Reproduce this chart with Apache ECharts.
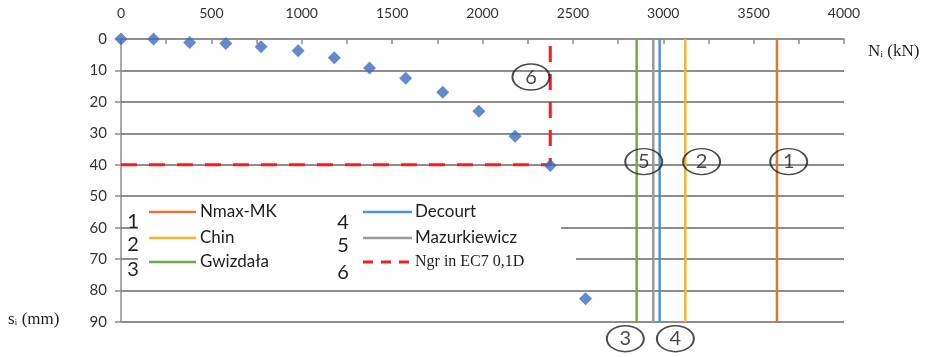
<!DOCTYPE html>
<html>
<head>
<meta charset="utf-8">
<script src="https://cdn.jsdelivr.net/npm/echarts@6/dist/echarts.min.js"></script>
<style>
  html, body { margin: 0; padding: 0; background: #fff; }
  #chart { width: 939px; height: 357px; }
</style>
</head>
<body>
<div id="chart"></div>
<script>
// Static load test: load N (kN) vs settlement s (mm)
const loads = [0, 180, 380, 580, 775, 980, 1180, 1375, 1575, 1780, 1980, 2180, 2375, 2570];
const settlements = [0, 0, 1.1, 1.4, 2.5, 3.7, 6.0, 9.2, 12.5, 16.9, 23.0, 30.9, 40.2, 82.6];

// Limit bearing capacity by method
const methodNames = ['Nmax-MK', 'Chin', 'Gwizdała', 'Decourt', 'Mazurkiewicz'];
const methodNumbers = ['1', '2', '3', '4', '5'];
const methodValues = [3629, 3122, 2853, 2980, 2945];
const methodColors = ['#E4752F', '#F5B52A', '#6FAC46', '#4E93D3', '#9A9A9A'];

// Ngr from EC7 criterion (settlement 0.1D)
const ngrName = 'Ngr in EC7 0,1D';
const ngrValue = 2375;
const ngrSettlement = 40;

// Circled numbers placed next to the lines
const markerLabels = ['6', '5', '2', '1', '3', '4'];
const markerX = [2268, 2892, 3212, 3694, 2790, 3067];
const markerY = [12.1, 39, 39, 39, 95.3, 95.3];

const xTicks = [0, 4000, 500];
const yTicks = [0, 90, 10];

const chart = echarts.init(document.getElementById('chart'));
const axisGray = '#8E8E8E';
const textGray = '#333333';
const sansFont = 'Lato, "Open Sans", sans-serif';
const serifFont = '"Liberation Serif", "DejaVu Serif", serif';

const series = [];
methodValues.forEach((v, i) => {
  series.push({
    name: methodNames[i],
    type: 'line',
    data: [[v, yTicks[0]], [v, yTicks[1]]],
    symbol: 'none',
    lineStyle: { color: methodColors[i], width: 2.5 },
    z: 3,
    silent: true
  });
});
series.push({
  name: ngrName,
  type: 'line',
  data: [[xTicks[0], ngrSettlement], [ngrValue, ngrSettlement], [ngrValue, yTicks[0]]],
  symbol: 'none',
  lineStyle: { color: '#F02020', width: 3, type: [16, 12] },
  z: 4,
  silent: true
});
series.push({
  name: 'test',
  type: 'scatter',
  data: loads.map((x, i) => [x, settlements[i]]),
  symbol: 'diamond',
  symbolSize: 13,
  itemStyle: { color: '#3C6DBF' },
  z: 5
});
series.push({
  name: 'markers',
  type: 'scatter',
  clip: false,
  data: markerLabels.map((t, i) => ({ value: [markerX[i], markerY[i]], name: t })),
  symbol: 'circle',
  symbolSize: [37, 26],
  itemStyle: { color: 'rgba(0,0,0,0)', borderColor: '#1E1E1E', borderWidth: 1.7 },
  label: {
    show: true, position: 'inside', formatter: '{b}',
    fontFamily: sansFont, fontSize: 20, color: '#1A1A1A'
  },
  z: 6,
  silent: true
});

// Legend drawn as graphic items: number, line sample, name
const legendGraphics = [
  { type: 'rect', shape: { x: 138, y: 199, width: 423, height: 49 }, style: { fill: '#fff' }, z: 10 },
  { type: 'rect', shape: { x: 138, y: 248, width: 438, height: 26 }, style: { fill: '#fff' }, z: 10 }
];
const colX = [133, 343];
const lineX = [[149, 196], [363, 412]];
const textX = [200, 415];
const rowY = [212, 238, 262];
const numY = [[222, 245, 270], [223, 246, 273]];
const legendItems = [0, 1, 2, 3, 4].map(i => ({
  num: methodNumbers[i], name: methodNames[i], color: methodColors[i], dashed: false, serif: false
}));
legendItems.push({ num: '6', name: ngrName, color: '#F02020', dashed: true, serif: true });
legendItems.forEach((it, idx) => {
  const col = idx < 3 ? 0 : 1;
  const row = idx % 3;
  legendGraphics.push({
    type: 'text', z: 11,
    style: { x: colX[col], y: numY[col][row], text: it.num, fontFamily: sansFont, fontSize: 20,
      fill: '#1E1E1E', align: 'center', verticalAlign: 'middle' }
  });
  legendGraphics.push({
    type: 'line', z: 11,
    shape: { x1: lineX[col][0], y1: rowY[row], x2: lineX[col][1], y2: rowY[row] },
    style: { stroke: it.color, lineWidth: it.dashed ? 3 : 2.5, lineDash: it.dashed ? [10, 8] : null }
  });
  legendGraphics.push({
    type: 'text', z: 11,
    style: { x: textX[col], y: rowY[row], text: it.name,
      fontFamily: it.serif ? serifFont : sansFont, fontSize: it.serif ? 16 : 17,
      fill: '#1E1E1E', align: 'left', verticalAlign: 'middle' }
  });
});
legendGraphics.push({
  type: 'text', z: 11,
  style: { x: 868, y: 52, text: 'Nᵢ (kN)', fontFamily: serifFont, fontSize: 17, fill: '#1E1E1E',
    align: 'left', verticalAlign: 'middle' }
});
legendGraphics.push({
  type: 'text', z: 11,
  style: { x: 8, y: 320, text: 'sᵢ (mm)', fontFamily: serifFont, fontSize: 17, fill: '#1E1E1E',
    align: 'left', verticalAlign: 'middle' }
});

chart.setOption({
  animation: false,
  backgroundColor: '#fff',
  grid: { left: 121, top: 39, width: 723, height: 283, containLabel: false },
  xAxis: {
    type: 'value', position: 'top',
    min: xTicks[0], max: xTicks[1], interval: xTicks[2],
    axisLine: { show: true, lineStyle: { color: axisGray, width: 1.5 } },
    axisTick: { show: true, inside: true, length: 5, lineStyle: { color: axisGray, width: 1.5 } },
    minorTick: { show: true, splitNumber: 2, length: 5, lineStyle: { color: axisGray, width: 1.5 } },
    axisLabel: { color: textGray, fontFamily: sansFont, fontSize: 14, margin: 19, formatter: v => String(v) },
    splitLine: { show: false }
  },
  yAxis: {
    type: 'value', inverse: true,
    min: yTicks[0], max: yTicks[1], interval: yTicks[2],
    axisLine: { show: true, lineStyle: { color: axisGray, width: 1.5 } },
    axisTick: { show: true, length: 6, lineStyle: { color: axisGray, width: 1.5 } },
    axisLabel: { color: textGray, fontFamily: sansFont, fontSize: 15, margin: 14 },
    splitLine: { show: true, lineStyle: { color: axisGray, width: 1.8 } }
  },
  series: series,
  graphic: legendGraphics
});
</script>
</body>
</html>
